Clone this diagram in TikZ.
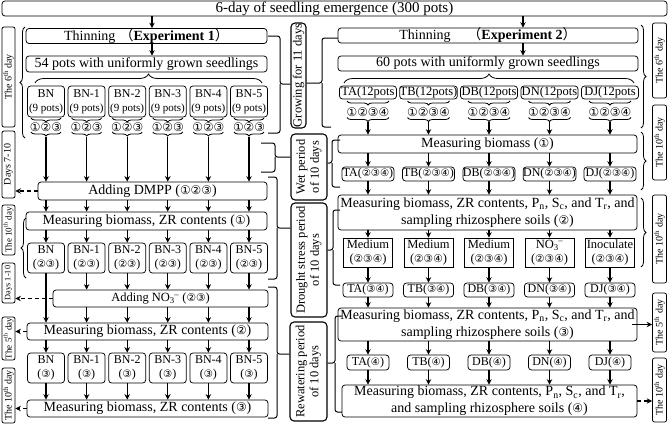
\documentclass[tikz,border=0pt]{standalone}
\usepackage{fontspec}
\setmainfont{Liberation Serif}
\newfontfamily\cfont[Scale=0.85]{DejaVu Sans}
\newfontfamily\cjk{Noto Sans CJK SC}
\usetikzlibrary{arrows.meta,decorations.pathreplacing}
\newcommand\C[1]{{\cfont #1}}
\newcommand\NOt{NO\textsubscript{3}\kern-0.5pt\textsuperscript{–}}
\begin{document}
\begin{tikzpicture}[x=1pt,y=-1pt,
  bx/.style={draw, rounded corners=3pt, inner sep=0pt, align=center, line width=0.75pt},
  sq/.style={draw, inner sep=0pt, align=center, line width=0.75pt},
  lab/.style={draw, rounded corners=2pt, inner sep=0pt, rotate=90, font=\fontsize{10}{11}\selectfont, line width=0.75pt},
  slab/.style={lab, font=\fontsize{9}{10}\selectfont},
  mid/.style={draw, rounded corners=4pt, inner sep=0pt, rotate=90, align=center, font=\fontsize{12.5}{14}\selectfont, line width=1.1pt},
  f15/.style={font=\fontsize{15}{17}\selectfont},
  f14/.style={font=\fontsize{14}{17}\selectfont},
  f125/.style={font=\fontsize{12.5}{14}\selectfont},
  f12/.style={font=\fontsize{12}{13.5}\selectfont},
  ar/.style={-{Stealth[length=5.5pt,width=5.5pt]}, line width=1.15pt},
  dar/.style={ar, dash pattern=on 4pt off 3pt},
  br/.style={line width=1pt, rounded corners=2.5pt},
  cb/.style={decorate, decoration={brace, amplitude=4pt}, line width=0.8pt},
  bigcb/.style={decorate, decoration={brace, amplitude=9pt}, line width=0.8pt}
]
\useasboundingbox (0,0) rectangle (669,424);

% ---- top ----
\node[bx, f15, minimum width=665pt, minimum height=15pt] (top) at (334.5,8.5) {6-day of seedling emergence (300 pots)};

% ---- left column single nodes ----
\node[bx, f14, minimum width=241pt, minimum height=14pt] (Lthin) at (146.5,36) {Thinning\hspace{0.3em}{\cjk （}\textbf{Experiment 1}{\cjk ）}};
\node[bx, f14, minimum width=241pt, minimum height=16pt] (L54) at (146.5,64) {54 pots with uniformly grown seedlings};
\node[bx, f14, minimum width=229pt, minimum height=18pt] (Ldmpp) at (152.5,191) {Adding DMPP (\C{①②③})};
\node[bx, f14, minimum width=241pt, minimum height=18pt] (Lm1) at (146.5,221) {Measuring biomass, ZR contents (\C{①})};
\node[bx, f125, minimum width=215pt, minimum height=17pt] (Lno3) at (160.5,298.5) {Adding \NOt\ (\C{②③})};
\node[bx, f14, minimum width=241pt, minimum height=17pt] (Lm2) at (147.5,331.5) {Measuring biomass, ZR contents (\C{②})};
\node[bx, f14, minimum width=241pt, minimum height=17pt] (Lm3) at (147.5,408.5) {Measuring biomass, ZR contents (\C{③})};

% ---- left labels ----
\node[lab, minimum width=100pt, minimum height=13pt] (La1) at (8.5,77) {The 6\textsuperscript{th} day};
\node[lab, minimum width=67pt, minimum height=13pt] (La2) at (8.5,164.5) {Days 7-10};
\node[slab, minimum width=50pt, minimum height=13pt] (La3) at (8.5,230) {The 10\textsuperscript{th} day};
\node[slab, minimum width=40pt, minimum height=13pt, font=\fontsize{8.3}{9}\selectfont] (La4) at (8.5,283) {Days 1-10};
\node[slab, minimum width=43pt, minimum height=13pt] (La5) at (8.5,338.5) {The 5\textsuperscript{th} day};
\node[lab, minimum width=55pt, minimum height=13pt] (La6) at (8.5,395.5) {The 10\textsuperscript{th} day};

% ---- middle labels ----
\node[mid, minimum width=105pt, minimum height=15pt] (M1) at (298.5,75.5) {Growing for 11 days};
\node[mid, minimum width=66pt, minimum height=36pt] (M2) at (309,167) {Wet period\\of 10 days};
\node[mid, minimum width=114pt, minimum height=36pt] (M3) at (309,260) {Drought stress period\\of 10 days};
\node[mid, minimum width=99pt, minimum height=37pt] (M4) at (308.5,371.5) {Rewatering period\\of 10 days};

% ---- right column single nodes ----
\node[bx, f14, minimum width=300pt, minimum height=15pt] (Rthin) at (488,35.5) {Thinning\hspace{1.2em}{\cjk （}\textbf{Experiment 2}{\cjk ）}};
\node[bx, f14, minimum width=300pt, minimum height=15pt] (R60) at (488,63.5) {60 pots with uniformly grown seedlings};
\node[bx, f14, minimum width=299pt, minimum height=18pt] (Rm1) at (487.5,144) {Measuring biomass (\C{①})};
\node[bx, f14, minimum width=299pt, minimum height=35pt] (Rm2) at (487.5,212.5) {Measuring biomass, ZR contents, P\textsubscript{n}, S\textsubscript{c}, and T\textsubscript{r}, and\\sampling rhizosphere soils (\C{②})};
\node[bx, f14, minimum width=299pt, minimum height=33pt] (Rm3) at (487.5,324.5) {Measuring biomass, ZR contents, P\textsubscript{n}, S\textsubscript{c}, and T\textsubscript{r}, and\\sampling rhizosphere soils (\C{③})};
\node[bx, f14, minimum width=295pt, minimum height=32pt] (Rm4) at (489.5,401) {Measuring biomass, ZR contents, P\textsubscript{n}, S\textsubscript{c}, and T\textsubscript{r},\\and sampling rhizosphere soils (\C{④})};

% ---- right labels ----
\node[lab, minimum width=75pt, minimum height=14pt] (R1) at (659.5,60.5) {The 6\textsuperscript{th} day};
\node[lab, minimum width=75pt, minimum height=14pt] (R2) at (659.5,142.5) {The 10\textsuperscript{th} day};
\node[lab, minimum width=88pt, minimum height=14pt] (R3) at (659.5,239) {The 10\textsuperscript{th} day};
\node[lab, minimum width=59pt, minimum height=14pt] (R4) at (659.5,322.5) {The 5\textsuperscript{th} day};
\node[lab, minimum width=64pt, minimum height=14pt] (R5) at (659.5,390) {The 10\textsuperscript{th} day};

% ---- top arrows ----
\coordinate (ax1) at (152,0);
\coordinate (ax2) at (523,0);
\draw[ar] (top.south -| ax1) -- (Lthin.north -| ax1);
\draw[ar] (Lthin.south -| ax1) -- (L54.north -| ax1);
\draw[ar] (top.south -| ax2) -- (Rthin.north -| ax2);
\draw[ar] (Rthin.south -| ax2) -- (R60.north -| ax2);

% ---- big braces ----
\draw[bigcb] (35,83) -- (262,83);
\draw[bigcb] (344,83) -- (634,83);
\draw[cb, decoration={brace, amplitude=5pt}] (25,138) -- (25,27);
\draw[cb, decoration={brace, amplitude=5pt}] (26,278) -- (26,218);
\draw[cb, decoration={brace, amplitude=5pt}] (641,25) -- (641,128);
\draw[cb, decoration={brace, amplitude=5pt}] (641,132) -- (641,190);
\draw[cb, decoration={brace, amplitude=5pt}] (641,198) -- (641,267);

% ---- left column rows ----
\foreach \x/\nm [count=\i from 0] in {46/BN,86.6/BN-1,127.2/BN-2,167.8/BN-3,208.4/BN-4,249/BN-5}{
  \node[bx, f12, minimum width=37pt, minimum height=31pt] (Ba\i) at (\x,101.5) {\nm\\{\fontsize{11}{12}\selectfont(9 pots)}};
  \node[f14, inner sep=0pt] (Ca\i) at (\x,127) {\C{①②③}};
  \node[bx, f12, minimum width=37pt, minimum height=30pt] (Bb\i) at (\x,258) {\nm\\(\C{②③})};
  \node[bx, f12, minimum width=37pt, minimum height=30pt] (Bc\i) at (\x,368) {\nm\\(\C{③})};
  \draw[cb] (\x+15,118) -- (\x-15,118);
  \draw[cb] (\x+15,132) -- (\x-15,132);
  \coordinate (ta\i) at (\x,136.5);
  \draw[ar] (ta\i) -- (Ldmpp.north -| ta\i);
  \draw[ar] (Ldmpp.south -| ta\i) -- (Lm1.north -| ta\i);
  \draw[ar] (Lm1.south -| Bb\i) -- (Bb\i.north);
  \ifnum\i=0
    \draw[ar] (Bb\i.south) -- (Lm2.north -| Bb\i);
  \else
    \draw[ar] (Bb\i.south) -- (Lno3.north -| Bb\i);
    \draw[ar] (Lno3.south -| Bb\i) -- (Lm2.north -| Bb\i);
  \fi
  \draw[ar] (Lm2.south -| Bc\i) -- (Bc\i.north);
  \draw[ar] (Bc\i.south) -- (Lm3.north -| Bc\i);
}

% ---- left dashed arrows ----
\draw[dar] (Ldmpp.west) -- (Ldmpp.west -| La2.south);
\draw[dar] (Lno3.west) -- (Lno3.west -| La4.south);
\draw[dar] (Lm2.west) -- (Lm2.west -| La5.south);
\draw[dar] (Lm3.west) -- (Lm3.west -| La6.south);

% ---- right column rows ----
\foreach \x/\nm/\tw/\md [count=\j from 0] in {368/TA/TA(12pots/Medium, 428.5/TB/TB(12pots)/Medium, 489/DB/DB(12pots/Medium, 549.5/DN/DN(12pots/{\NOt}, 610/DJ/DJ(12pots/Inoculate}{
  \node[bx, f125, minimum width=57pt, minimum height=13pt] (Ra\j) at (\x,92.5) {\tw};
  \node[f14, inner sep=0pt] (Rc\j) at (\x,112.5) {\C{①②③④}};
  \draw[cb] (\x+21,101) -- (\x-21,101);
  \draw[cb] (\x+21,117.5) -- (\x-21,117.5);
  \coordinate (rt\j) at (\x,121.5);
  \node[bx, f12, minimum width=52pt, minimum height=14pt] (Rb\j) at (\x,174) {\nm(\C{②③④})};
  \node[sq, f125, minimum width=49pt, minimum height=29pt] (Rd\j) at (\x,252.5) {\md\\(\C{②③④})};
  \node[bx, f12, minimum width=50pt, minimum height=14pt] (Re\j) at (\x,290) {\nm(\C{③④})};
  \node[bx, f12, minimum width=42pt, minimum height=15pt] (Rf\j) at (\x,362.5) {\nm(\C{④})};
  \draw[ar] (rt\j) -- (Rm1.north -| rt\j);
  \draw[ar] (Rm1.south -| Rb\j) -- (Rb\j.north);
  \draw[ar] (Rb\j.south) -- (Rm2.north -| Rb\j);
  \draw[ar] (Rm2.south -| Rd\j) -- (Rd\j.north);
  \draw[ar] (Rd\j.south) -- (Re\j.north);
  \draw[ar] (Re\j.south) -- (Rm3.north -| Re\j);
  \draw[ar] (Rm3.south -| Rf\j) -- (Rf\j.north);
  \draw[ar] (Rf\j.south) -- (Rm4.north -| Rf\j);
}

% ---- right arrows to labels ----
\draw[ar] ([xshift=-5pt]Rm3.east) -- (Rm3.east -| R4.north);
\draw[dar] (Rm4.east) -- (Rm4.east -| R5.north);

% ---- middle brackets (left side) ----
\coordinate (g1) at (280,84);
\coordinate (g2) at (275,157);
\coordinate (g3) at (277,228);
\coordinate (g4) at (277,354);
\draw[br] (268,36) -| (g1) -- (g1 -| M1.north);
\draw[br] (268,133) -| (g1);
\draw[br] (261,143) -| (g2) -- (g2 -| M2.north);
\draw[br] (261,172) -| (g2);
\draw[br] (268,177) -| (g3) -- (g3 -| M3.north);
\draw[br] (268,279) -| (g3);
\draw[br] (268,287) -| (g4) -- (g4 -| M4.north);
\draw[br] (268,418) -| (g4);

% ---- middle brackets (right side) ----
\coordinate (h1) at (322,83);
\coordinate (h2) at (332,163);
\coordinate (h3) at (333,250);
\coordinate (h4) at (335,363);
\draw[br] (338,38) -| (h1) -- (h1 -| M1.south);
\draw[br] (331,127) -| (h1);
\draw[br] (340,140) -| (h2) -- (h2 -| M2.south);
\draw[br] (340,187) -| (h2);
\draw[br] (340,210) -| (h3) -- (h3 -| M3.south);
\draw[br] (340,285) -| (h3);
\draw[br] (342,316) -| (h4) -- (h4 -| M4.south);
\draw[br] (342,412) -| (h4);
\end{tikzpicture}
\end{document}
